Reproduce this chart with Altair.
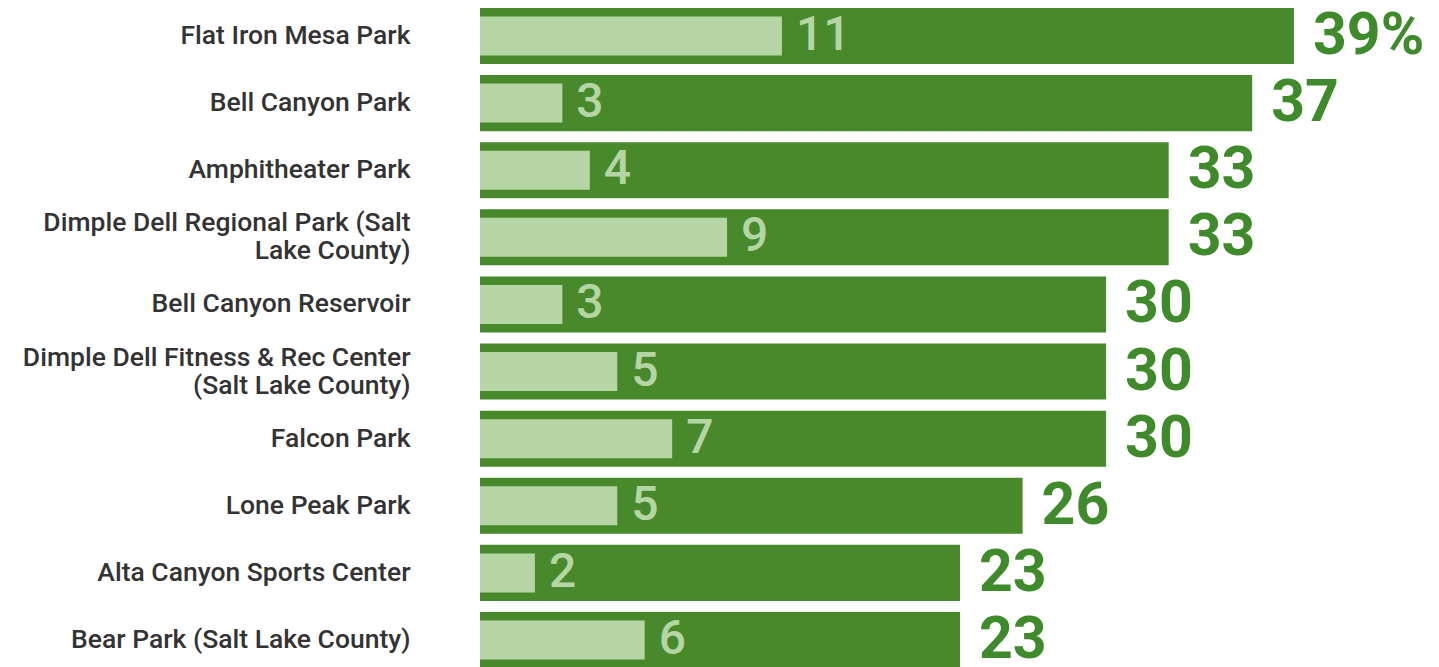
import altair as alt
import pandas as pd

parks = [
    "Flat Iron Mesa Park",
    "Bell Canyon Park",
    "Amphitheater Park",
    "Dimple Dell Regional Park (Salt|Lake County)",
    "Bell Canyon Reservoir",
    "Dimple Dell Fitness & Rec Center|(Salt Lake County)",
    "Falcon Park",
    "Lone Peak Park",
    "Alta Canyon Sports Center",
    "Bear Park (Salt Lake County)",
]
pct = [39, 37, 33, 33, 30, 30, 30, 26, 23, 23]
pct_labels = ["39%", "37", "33", "33", "30", "30", "30", "26", "23", "23"]
counts = [11, 3, 4, 9, 3, 5, 7, 5, 2, 6]

df = pd.DataFrame({"park": parks, "pct": pct, "pct_label": pct_labels, "count": counts})

W = 950
H = 660
PX_OUT = 20.87
PX_IN = 27.45

DARK = "#488a2b"
LIGHT = "#b5d5a5"
TEXT_DARK = "#3f8a2a"
FONT = "Roboto"

y = alt.Y(
    "park:N",
    sort=None,
    scale=alt.Scale(paddingInner=0.165, paddingOuter=0),
    axis=alt.Axis(
        title=None, domain=False, ticks=False, labelPadding=70,
        labelFont=FONT, labelFontSize=26.5, labelFontWeight=500,
        labelColor="#333333", labelExpr="split(datum.value, '|')",
        labelLineHeight=28, labelLimit=600,
        labelOffset={"condition": {"test": "indexof(datum.value, '|') >= 0", "value": -14}, "value": 0},
    ),
)
xo = alt.X("pct:Q", scale=alt.Scale(domain=[0, W / PX_OUT]), axis=None)
xi = alt.X("count:Q", scale=alt.Scale(domain=[0, W / PX_IN]), axis=None)

base = alt.Chart(df)
outer_bar = base.mark_bar(color=DARK).encode(x=xo, y=y)
outer_text = base.mark_text(
    align="left", baseline="middle", dx=19, dy=0, font=FONT,
    fontSize=59, fontWeight="bold", color=TEXT_DARK,
).encode(x=xo, y=y, text="pct_label:N")
inner_bar = base.mark_bar(color=LIGHT, size=39).encode(x=xi, y=y)
inner_text = base.mark_text(
    align="left", baseline="middle", dx=14, dy=0, font=FONT,
    fontSize=48, fontWeight=500, color=LIGHT,
).encode(x=xi, y=y, text="count:Q")

chart = (
    alt.layer(outer_bar, outer_text, inner_bar, inner_text)
    .resolve_scale(x="independent")
    .properties(
        width=W, height=H,
        padding={"left": 472, "top": 0, "right": 0, "bottom": 0},
        autosize=alt.AutoSizeParams(type="none"),
    )
    .configure_view(stroke=None)
)

chart.save("out.html", embed_options={"renderer": "svg", "actions": False})
